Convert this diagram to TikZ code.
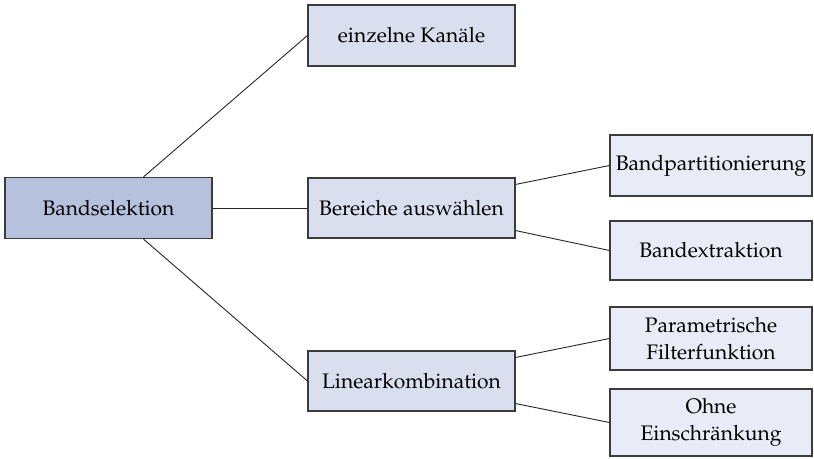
\documentclass[tikz,border=0pt]{standalone}
\usepackage[T1]{fontenc}
\usepackage{mathpazo}
\usetikzlibrary{calc}
\definecolor{rootfill}{HTML}{B5C1DD}
\definecolor{midfill}{HTML}{D9DFEE}
\definecolor{leaffill}{HTML}{E9ECF7}
\definecolor{edgecol}{HTML}{3C3C3C}
\tikzset{
  boxbase/.style={draw=edgecol, line width=1.1pt, rectangle, inner sep=0pt, align=center,
    font=\fontsize{21}{26.5}\selectfont, text=black},
  rootbox/.style={boxbase, fill=rootfill, minimum width=207pt, minimum height=61pt},
  midbox/.style={boxbase, fill=midfill, minimum width=207pt, minimum height=60pt},
  leafbox/.style={boxbase, fill=leaffill, minimum width=202pt},
  conn/.style={draw=black!85, line width=0.9pt}
}
\begin{document}
\begin{tikzpicture}[x=1pt, y=-1pt]
\useasboundingbox (0,0) rectangle (814,458);
\node[rootbox] (bs) at (108.5,208) {Bandselektion};
\node[midbox, minimum height=61pt] (ek) at (411.5,35.5) {einzelne Kan\"ale};
\node[midbox] (ber) at (411.5,208) {Bereiche ausw\"ahlen};
\node[midbox] (lin) at (411.5,381) {Linearkombination};
\node[leafbox, minimum height=61pt] (bp) at (711,165.5) {Bandpartitionierung};
\node[leafbox, minimum height=59pt] (bx) at (711,250.5) {Bandextraktion};
\node[leafbox, minimum height=63pt] (pf) at (711,338.5) {Parametrische\\Filterfunktion};
\node[leafbox, minimum height=67pt] (oe) at (711,422.5) {Ohne\\Einschr\"ankung};
\coordinate (bsT) at ($(bs.north west)+(139,0)$);
\coordinate (bsB) at ($(bs.south west)+(139,0)$);
\coordinate (berA) at ($(ber.north east)+(0,7)$);
\coordinate (berB) at ($(ber.south east)+(0,-8)$);
\coordinate (linA) at ($(lin.north east)+(0,7)$);
\coordinate (linB) at ($(lin.south east)+(0,-8)$);
\draw[conn] (bsT) -- (ek.west);
\draw[conn] (bs.east) -- (ber.west);
\draw[conn] (bsB) -- (lin.west);
\draw[conn] (berA) -- (bp.west);
\draw[conn] (berB) -- (bx.west);
\draw[conn] (linA) -- (pf.west);
\draw[conn] (linB) -- (oe.west);
\end{tikzpicture}
\end{document}
